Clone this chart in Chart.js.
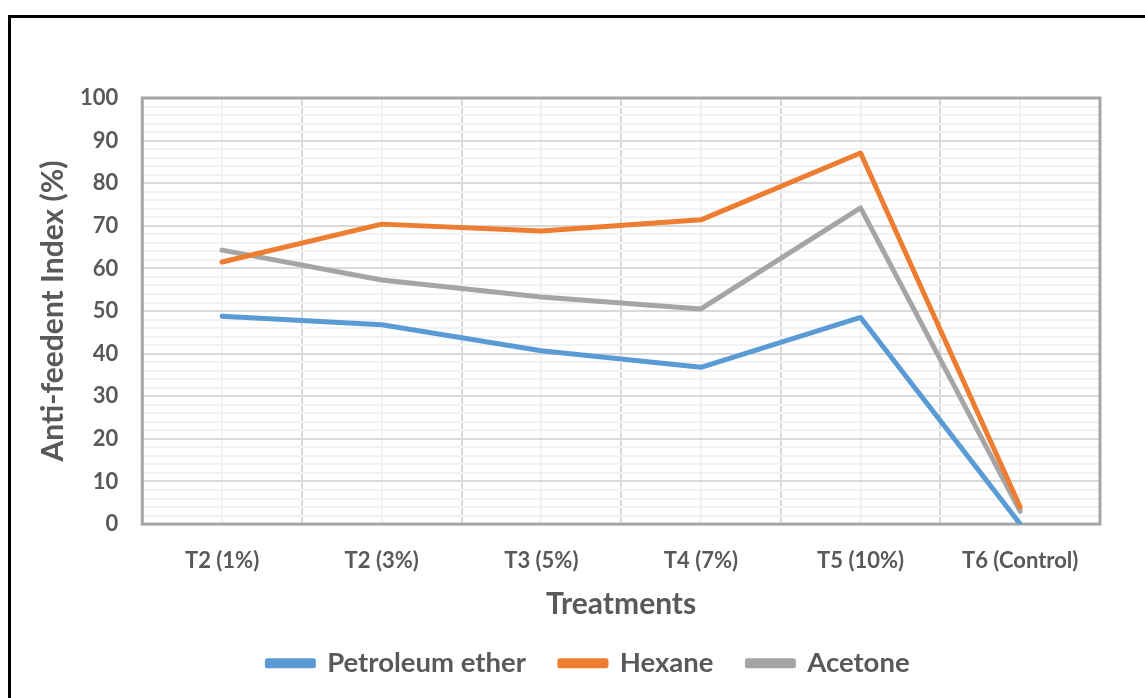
<!DOCTYPE html>
<html>
<head>
<meta charset="utf-8">
<script src="https://cdn.jsdelivr.net/npm/chart.js@4.4.1/dist/chart.umd.min.js"></script>
<style>
  body { margin: 0; background: #fff; }
  #wrap { position: relative; width: 1145px; height: 698px; }
  #frame {
    position: absolute; left: 8px; top: 15px; width: 1200px; height: 800px;
    border-top: 3px solid #000; border-left: 3px solid #000; pointer-events: none;
  }
</style>
</head>
<body>
<div id="wrap">
  <canvas id="chart"></canvas>
  <div id="frame"></div>
</div>
<script>
// treatments and anti-feedant index values
const treatments = ["T2 (1%)", "T2 (3%)", "T3 (5%)", "T4 (7%)", "T5 (10%)", "T6 (Control)"];
const petroleumEther = [48.8, 46.8, 40.7, 36.8, 48.5, 0];
const hexane = [61.5, 70.4, 68.8, 71.4, 87.1, 4.0];
const acetone = [64.3, 57.3, 53.3, 50.5, 74.2, 3.0];

const fontFam = "Lato, 'Open Sans', sans-serif";
const textCol = "#595959";

// grey box round the plot area, drawn under the lines
const plotBorder = {
  id: "plotBorder",
  beforeDatasetsDraw(chart) {
    const a = chart.chartArea;
    const c = chart.ctx;
    c.save();
    c.strokeStyle = "#a6a6a6";
    c.lineWidth = 3;
    c.strokeRect(a.left, a.top, a.right - a.left, a.bottom - a.top);
    c.restore();
  }
};

// the legend in the picture sits a bit right of centre
const legendShift = {
  id: "legendShift",
  afterLayout(chart) {
    chart.legend.left += 21;
    chart.legend.right += 21;
  }
};

function line(label, data, color) {
  return {
    label: label,
    data: data,
    borderColor: color,
    backgroundColor: color,
    borderWidth: 5,
    pointRadius: 0,
    tension: 0,
    borderCapStyle: "round",
    borderJoinStyle: "round"
  };
}

new Chart(document.getElementById("chart"), {
  type: "line",
  data: {
    labels: treatments,
    datasets: [
      line("Petroleum ether", petroleumEther, "#5b9bd5"),
      line("Hexane", hexane, "#ed7d31"),
      line("Acetone", acetone, "#a5a5a5")
    ]
  },
  plugins: [plotBorder, legendShift],
  options: {
    responsive: true,
    maintainAspectRatio: false,
    animation: false,
    layout: { padding: { top: 98, right: 45, left: 35, bottom: 11 } },
    scales: {
      x: {
        offset: true,
        grid: { offset: false, color: "#f2f2f2", lineWidth: 2, drawTicks: false },
        border: { display: false },
        ticks: { color: textCol, font: { family: fontFam, size: 22, weight: "bold" }, padding: 24 },
        title: {
          display: true, text: "Treatments", color: textCol,
          font: { family: fontFam, size: 30, weight: "bold" }, padding: { top: -12, bottom: -7 }
        }
      },
      x2: {
        position: "top",
        offset: true,
        grid: { offset: true, color: "#d9d9d9", lineWidth: 2, drawTicks: false },
        border: { display: false },
        ticks: { display: false }
      },
      y: {
        min: 0,
        max: 100,
        grid: {
          color: ctx => (ctx.tick && ctx.tick.value % 10 === 0) ? "#d9d9d9" : "#f2f2f2",
          lineWidth: 2,
          drawTicks: false
        },
        border: { display: false },
        ticks: {
          stepSize: 2,
          autoSkip: false,
          padding: 24,
          color: textCol,
          font: { family: fontFam, size: 22, weight: "bold" },
          callback: v => (v % 10 === 0 ? v : "")
        },
        title: {
          display: true, text: "Anti-feedent Index (%)", color: textCol,
          font: { family: fontFam, size: 30, weight: "bold" }, padding: { top: 0, bottom: -15 }
        }
      }
    },
    plugins: {
      legend: {
        position: "bottom",
        labels: {
          boxWidth: 46,
          boxHeight: 5,
          padding: 34,
          color: textCol,
          font: { family: fontFam, size: 27.5, weight: "bold" }
        }
      },
      tooltip: { enabled: false }
    }
  }
});
</script>
</body>
</html>
